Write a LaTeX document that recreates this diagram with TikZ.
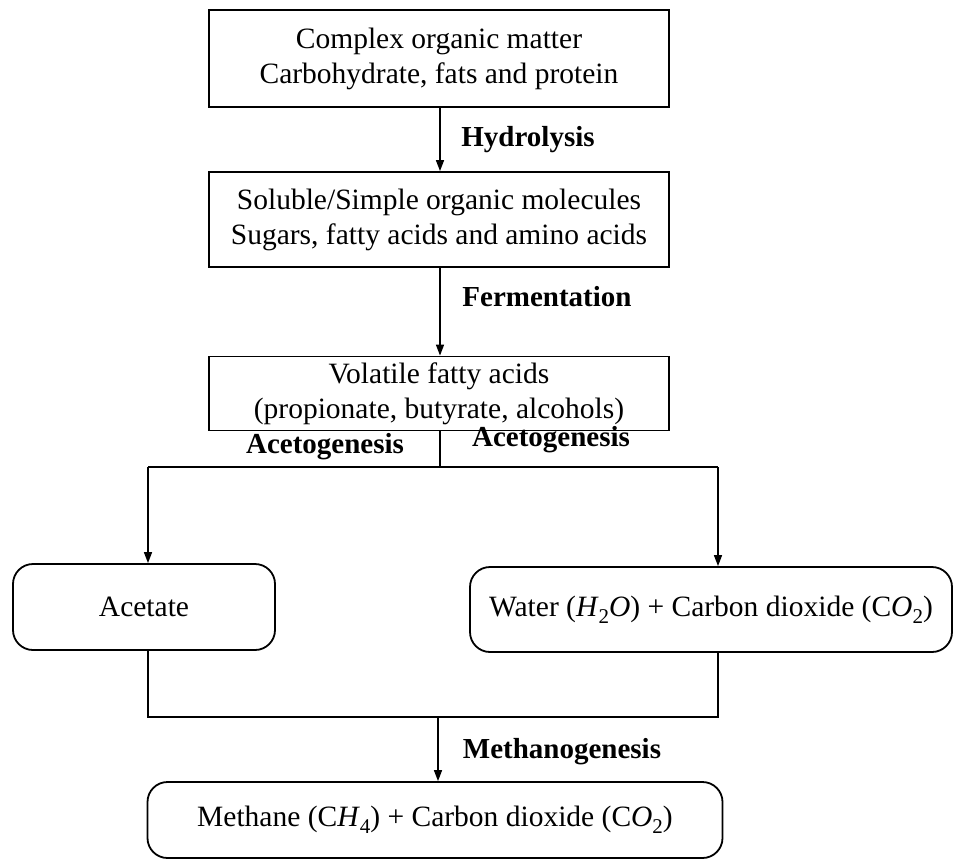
\documentclass[tikz,border=0pt]{standalone}
\usepackage{fontspec}
\setmainfont{Liberation Serif}
\usetikzlibrary{arrows.meta}
\tikzset{
  box/.style={draw=black, line width=1.8pt, fill=white, align=center, inner sep=0pt,
    font=\fontsize{29.5}{35}\selectfont},
  rbox/.style={box, rounded corners=20pt},
  lbl/.style={font=\fontsize{29}{34}\selectfont\bfseries, inner sep=0pt},
  conn/.style={line width=1.5pt, draw=black},
  arr/.style={conn, -{Triangle[length=11pt,width=8pt]}},
}
\newcommand{\sbs}[1]{\raisebox{-0.55ex}{\fontsize{21}{21}\selectfont #1}}
\begin{document}
\begin{tikzpicture}[x=1pt,y=-1pt]
\useasboundingbox[fill=white] (0,0) rectangle (960,863);
\node[box, minimum width=460pt, minimum height=97pt] (b1) at (439,58.5)
  {Complex organic matter\\Carbohydrate, fats and protein};
\node[box, minimum width=460pt, minimum height=95pt] (b2) at (439,219.5)
  {Soluble/Simple organic molecules\\Sugars, fatty acids and amino acids};
\node[box, minimum width=460pt, minimum height=74pt] (b3) at (439,393.5)
  {Volatile fatty acids\\(propionate, butyrate, alcohols)};
\node[rbox, minimum width=262pt, minimum height=86pt] (acet) at (144,607)
  {Acetate};
\node[rbox, minimum width=482pt, minimum height=85pt] (water) at (711,609.5)
  {Water (\textit{H}\sbs{2}\textit{O}) + Carbon dioxide (C\textit{O}\sbs{2})};
\node[rbox, minimum width=575pt, minimum height=76pt] (meth) at (435,820)
  {Methane (C\textit{H}\sbs{4}) + Carbon dioxide (C\textit{O}\sbs{2})};

\node[lbl] (l1) at (528,140) {Hydrolysis};
\node[lbl] (l2) at (547,297) {Fermentation};
\node[lbl] (l3) at (325,447) {Acetogenesis};
\node[lbl] (l4) at (551,440) {Acetogenesis};
\node[lbl] (l5) at (562,752) {Methanogenesis};

\coordinate (s1) at (440,107);
\coordinate (s2) at (440,267);
\coordinate (s3) at (440,430.5);
\coordinate (split) at (440,467);
\coordinate (sl) at (148,467);
\coordinate (sr) at (718,467);
\coordinate (jl) at (148,717);
\coordinate (jr) at (718,717);
\coordinate (join) at (438,717);

\draw[arr] (s1) -- (s1 |- b2.north);
\draw[arr] (s2) -- (s2 |- b3.north);
\draw[conn] (s3) -- (split);
\draw[conn] (sl) -- (sr);
\draw[arr] (sl) -- (sl |- acet.north);
\draw[arr] (sr) -- (sr |- water.north);
\draw[conn] (jl |- acet.south) -- (jl) -- (jr) -- (jr |- water.south);
\draw[arr] (join) -- (join |- meth.north);
\end{tikzpicture}
\end{document}
